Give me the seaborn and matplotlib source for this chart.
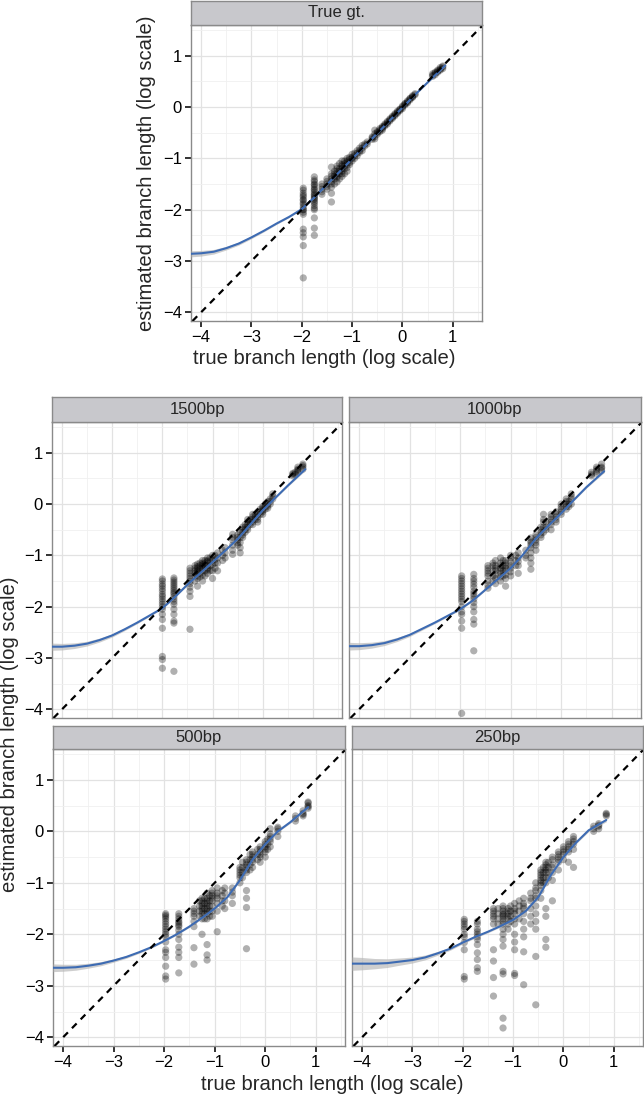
import numpy as np
import pandas as pd
import matplotlib.pyplot as plt
import seaborn as sns

# ── STYLE ─────────────────────────────────────────────────
sns.set_theme(style="white")
plt.rcParams["font.family"] = ["Liberation Sans", "DejaVu Sans"]

W, H = 644, 1096

# ── DATA (log true vs log estimated branch length) ───────
# each panel: true x column -> estimated y values
tgt_cols = {
    -1.97: [-1.58, -1.62, -1.68, -1.72, -1.75, -1.8, -1.82, -1.87, -1.9, -1.95, -2.0, -2.0,
            -2.05, -2.09, -2.38, -2.45, -2.53, -2.70, -3.33],
    -1.75: [-1.36, -1.42, -1.45, -1.5, -1.52, -1.56, -1.6, -1.62, -1.66, -1.7, -1.72, -1.75,
            -1.78, -1.8, -1.84, -1.87, -1.92, -1.97, -2.0, -2.16, -2.36, -2.50],
    -1.6: [-1.5, -1.55, -1.6, -1.65, -1.7],
    -1.5: [-1.4, -1.45, -1.5, -1.55, -1.6],
    -1.41: [-1.17, -1.3, -1.35, -1.4, -1.45, -1.5, -1.56, -1.68, -1.85],
    -1.35: [-1.25, -1.3, -1.35, -1.4, -1.5],
    -1.3: [-1.15, -1.2, -1.25, -1.3, -1.35, -1.38, -1.46],
    -1.25: [-1.1, -1.2, -1.25, -1.3, -1.4],
    -1.2: [-1.05, -1.12, -1.15, -1.2, -1.25, -1.3, -1.35],
    -1.15: [-1.05, -1.1, -1.15, -1.2, -1.3],
    -1.1: [-1.0, -1.05, -1.08, -1.12, -1.18, -1.25],
    -1.05: [-0.98, -1.02, -1.08, -1.12],
    -1.0: [-0.92, -0.98, -1.0, -1.05],
    -0.95: [-0.9, -0.95, -1.0],
    -0.9: [-0.85, -0.9, -0.95],
    -0.85: [-0.8, -0.85, -0.88],
    -0.8: [-0.75, -0.8, -0.85],
    -0.75: [-0.72, -0.76],
    -0.7: [-0.68, -0.72],
    -0.6: [-0.58, -0.6, -0.63],
    -0.55: [-0.45, -0.52, -0.58, -0.62],
    -0.5: [-0.48, -0.5, -0.53],
    -0.45: [-0.42, -0.45, -0.48],
    -0.4: [-0.38, -0.4, -0.42, -0.45],
    -0.35: [-0.33, -0.35, -0.37],
    -0.3: [-0.28, -0.3, -0.33],
    -0.25: [-0.23, -0.25, -0.27],
    -0.2: [-0.18, -0.2, -0.22],
    -0.15: [-0.13, -0.15, -0.17],
    -0.1: [-0.08, -0.1, -0.12],
    -0.05: [-0.04, -0.05, -0.07],
    0.0: [0.0, 0.02, -0.03],
    0.05: [0.04, 0.06, 0.07],
    0.1: [0.1, 0.12, 0.08],
    0.15: [0.14, 0.16, 0.17],
    0.2: [0.2, 0.22, 0.19],
    0.25: [0.24, 0.26],
    0.6: [0.6, 0.62, 0.65],
    0.65: [0.63, 0.66, 0.68],
    0.7: [0.68, 0.72, 0.7],
    0.75: [0.72, 0.74, 0.77],
    0.8: [0.75, 0.78, 0.8],
}
bp1500_cols = {
    -2.0: [-1.46, -1.5, -1.56, -1.6, -1.65, -1.7, -1.76, -1.8, -1.85, -1.9, -1.95, -2.0,
           -2.05, -2.15, -2.25, -2.42, -2.97, -3.03, -3.2],
    -1.77: [-1.44, -1.48, -1.52, -1.56, -1.6, -1.64, -1.68, -1.72, -1.75, -1.8, -1.85, -1.9,
            -1.95, -2.05, -2.15, -2.28, -2.32, -3.26],
    -1.45: [-1.25, -1.3, -1.35, -1.4, -1.45, -1.5, -1.55, -1.62, -1.7, -1.8, -2.44],
    -1.35: [-1.2, -1.25, -1.3, -1.35, -1.4, -1.5],
    -1.3: [-1.17, -1.22, -1.25, -1.3, -1.32, -1.4, -1.45, -1.6],
    -1.25: [-1.15, -1.2, -1.28, -1.35, -1.42],
    -1.2: [-1.1, -1.15, -1.18, -1.22, -1.25, -1.3, -1.38, -1.5],
    -1.15: [-1.1, -1.15, -1.2, -1.3, -1.4],
    -1.1: [-1.05, -1.1, -1.12, -1.2, -1.25, -1.28, -1.35],
    -1.05: [-1.05, -1.12, -1.2, -1.3],
    -1.0: [-1.0, -1.1, -1.18, -1.3, -1.45],
    -0.95: [-1.0, -1.08, -1.15, -1.25],
    -0.9: [-0.95, -1.05, -1.15, -1.3],
    -0.8: [-0.9, -1.0, -1.1],
    -0.75: [-0.85, -0.95, -1.05],
    -0.6: [-0.59, -0.65, -0.7, -0.8, -0.9, -0.98],
    -0.5: [-0.6, -0.65, -0.7, -0.75, -0.8],
    -0.45: [-0.55, -0.65, -0.75, -0.85, -0.95],
    -0.4: [-0.45, -0.5, -0.55, -0.6, -0.65],
    -0.35: [-0.4, -0.45, -0.5, -0.55],
    -0.3: [-0.3, -0.35, -0.4, -0.45, -0.5],
    -0.25: [-0.3, -0.35, -0.4],
    -0.2: [-0.2, -0.25, -0.3, -0.35, -0.4],
    -0.15: [-0.2, -0.25, -0.3],
    -0.1: [-0.15, -0.2, -0.25, -0.3, -0.35],
    -0.05: [-0.1, -0.15, -0.2],
    0.0: [-0.05, -0.08, -0.12, -0.15, -0.2],
    0.05: [0.0, -0.05, -0.1],
    0.1: [0.05, 0.0, -0.04, -0.08],
    0.15: [0.1, 0.05, 0.0],
    0.2: [0.1, 0.15, 0.2],
    0.6: [0.55, 0.58, 0.6],
    0.65: [0.58, 0.62],
    0.7: [0.62, 0.66, 0.68, 0.72],
    0.8: [0.68, 0.72, 0.75, 0.78],
}
bp1000_cols = {
    -1.97: [-1.4, -1.45, -1.5, -1.55, -1.6, -1.65, -1.7, -1.75, -1.8, -1.85, -1.9, -2.0,
            -2.1, -2.15, -2.28, -2.42, -4.08],
    -1.73: [-1.37, -1.45, -1.5, -1.56, -1.62, -1.7, -1.75, -1.8, -1.85, -1.92, -2.0, -2.1,
            -2.25, -2.34, -2.86],
    -1.45: [-1.2, -1.25, -1.3, -1.35, -1.4, -1.5, -1.58, -1.64],
    -1.35: [-1.15, -1.2, -1.3, -1.4, -1.5],
    -1.3: [-1.1, -1.2, -1.25, -1.3, -1.38, -1.45, -1.55],
    -1.2: [-1.05, -1.15, -1.2, -1.25, -1.3, -1.35, -1.42, -1.5],
    -1.15: [-1.1, -1.2, -1.3, -1.4],
    -1.1: [-1.1, -1.15, -1.2, -1.25, -1.3, -1.38, -1.45, -1.6],
    -1.0: [-1.0, -1.05, -1.12, -1.2, -1.25, -1.32, -1.4],
    -0.9: [-1.0, -1.1, -1.2],
    -0.85: [-0.95, -1.05, -1.12, -1.2, -1.35],
    -0.7: [-0.9, -1.0, -1.05],
    -0.6: [-0.66, -0.72, -0.75, -0.8, -0.85, -0.95, -1.05, -1.15, -1.27],
    -0.5: [-0.6, -0.65, -0.7, -0.75, -0.8, -0.9],
    -0.4: [-0.45, -0.5, -0.55, -0.6, -0.65],
    -0.35: [-0.2, -0.3, -0.35, -0.45, -0.55],
    -0.3: [-0.35, -0.45, -0.5],
    -0.2: [-0.2, -0.25, -0.3, -0.35, -0.4, -0.5],
    -0.1: [-0.15, -0.2, -0.25, -0.3, -0.35],
    0.0: [0.0, -0.05, -0.1, -0.15, -0.2],
    0.1: [0.1, 0.05, 0.0, -0.05, -0.1],
    0.15: [0.05, 0.0, -0.05],
    0.2: [0.2, 0.15, 0.1, 0.0],
    0.6: [0.55, 0.58, 0.62],
    0.7: [0.6, 0.64, 0.68, 0.72],
    0.8: [0.65, 0.7, 0.72, 0.78],
}
bp500_cols = {
    -1.97: [-1.6, -1.63, -1.66, -1.7, -1.75, -1.8, -1.85, -1.9, -1.95, -2.0, -2.05, -2.15,
            -2.3, -2.35, -2.45, -2.62, -2.81, -2.87],
    -1.71: [-1.6, -1.65, -1.7, -1.75, -1.78, -1.82, -1.85, -1.92, -2.0, -2.1, -2.25, -2.35,
            -2.45, -2.75],
    -1.41: [-1.5, -1.55, -1.6, -1.65, -1.75, -1.85, -2.26, -2.58],
    -1.3: [-1.35, -1.45, -1.55, -1.65],
    -1.25: [-1.3, -1.35, -1.4, -1.45, -1.5, -1.55, -1.6, -1.7, -2.0],
    -1.2: [-1.3, -1.4, -1.5, -1.6, -1.7],
    -1.15: [-1.2, -1.3, -1.35, -1.4, -1.45, -1.5, -1.55, -1.6, -1.7, -2.2, -2.4, -2.5],
    -1.1: [-1.25, -1.35, -1.45, -1.55, -1.65],
    -1.05: [-1.15, -1.2, -1.25, -1.3, -1.35, -1.45, -1.55, -1.65],
    -0.95: [-1.1, -1.2, -1.25, -1.3, -1.4, -1.55, -1.95],
    -0.85: [-1.15, -1.25, -1.35, -1.45],
    -0.8: [-1.1, -1.2, -1.35, -1.5],
    -0.65: [-1.1, -1.18, -1.25, -1.4],
    -0.5: [-0.7, -0.75, -0.8, -0.85, -0.9, -1.0],
    -0.45: [-0.6, -0.7, -0.8, -0.9],
    -0.37: [-0.55, -0.6, -0.65, -0.7, -0.75, -0.8, -1.15, -1.3, -1.48, -2.28],
    -0.3: [-0.45, -0.55, -0.65, -0.75],
    -0.25: [-0.4, -0.45, -0.5, -0.55, -0.6, -0.7],
    -0.15: [-0.35, -0.45, -0.55],
    -0.1: [-0.3, -0.35, -0.4, -0.45, -0.5, -0.6],
    0.0: [-0.2, -0.25, -0.3, -0.35, -0.4, -0.5],
    0.05: [-0.15, -0.25, -0.35],
    0.1: [0.05, -0.05, -0.1, -0.15, -0.2, -0.3],
    0.25: [0.08, 0.05, 0.0, -0.1],
    0.6: [0.2, 0.25, 0.3],
    0.75: [0.3, 0.33, 0.35, 0.4],
    0.85: [0.45, 0.48, 0.5, 0.55, 0.57],
}
bp250_cols = {
    -1.97: [-1.71, -1.75, -1.8, -1.85, -1.9, -2.0, -2.05, -2.16, -2.3, -2.82, -2.87],
    -1.71: [-1.75, -1.8, -1.9, -1.95, -2.0, -2.05, -2.1, -2.2, -2.36, -2.49, -2.65, -2.72],
    -1.39: [-1.5, -1.55, -1.6, -1.65, -1.7, -1.8, -2.3, -2.52, -2.84, -3.2],
    -1.3: [-1.5, -1.6, -1.7, -1.8],
    -1.2: [-1.45, -1.5, -1.55, -1.6, -1.62, -1.65, -1.7, -1.75, -1.8, -1.9, -2.0, -2.1,
           -2.23, -2.72, -2.77, -3.63, -3.82],
    -1.1: [-1.5, -1.55, -1.6, -1.65, -1.7, -1.8, -1.9],
    -1.05: [-1.45, -1.55, -1.65, -1.75],
    -0.97: [-1.4, -1.5, -1.55, -1.6, -1.7, -1.8, -2.0, -2.15, -2.3, -2.76, -2.8],
    -0.88: [-1.35, -1.45, -1.55, -1.7],
    -0.79: [-1.3, -1.4, -1.45, -1.5, -1.6, -1.75, -1.9, -2.05, -2.34, -2.98],
    -0.65: [-1.2, -1.3, -1.35, -1.5, -1.65, -1.8],
    -0.55: [-1.0, -1.1, -1.15, -1.25, -1.3, -1.45, -1.6, -1.75, -1.9, -2.43, -3.37],
    -0.45: [-0.75, -0.8, -0.85, -0.9, -0.95, -1.0, -1.05, -1.15, -1.3],
    -0.4: [-0.7, -0.8, -0.9, -1.0],
    -0.35: [-0.6, -0.65, -0.7, -0.75, -0.8, -0.9, -1.0, -1.5, -1.65, -2.1, -2.25],
    -0.3: [-0.6, -0.7, -0.8, -0.9],
    -0.22: [-0.5, -0.55, -0.65, -0.7, -0.8, -0.95, -1.35],
    -0.1: [-0.4, -0.45, -0.5, -0.55, -0.6, -0.75],
    0.0: [-0.3, -0.35, -0.4, -0.45, -0.55],
    0.1: [-0.2, -0.25, -0.3, -0.35, -0.4, -0.6],
    0.2: [-0.1, -0.15, -0.2, -0.25, -0.35, -0.7],
    0.6: [0.0, 0.05, 0.1],
    0.7: [0.05, 0.1, 0.12, 0.15],
    0.85: [0.3, 0.33, 0.35],
}

# smoothed fit and half-width of the grey band
fit_x = [-4.2, -4.0, -3.75, -3.5, -3.25, -3.0, -2.75, -2.5, -2.25, -2.0, -1.75,
         -1.5, -1.25, -1.0, -0.75, -0.5, -0.25, 0.0, 0.25, 0.5, 0.85]
tgt_fit = [-2.86, -2.85, -2.82, -2.75, -2.66, -2.54, -2.41, -2.27, -2.14, -1.99, -1.76,
           -1.51, -1.26, -1.01, -0.76, -0.51, -0.26, -0.01, 0.24, 0.48, 0.81]
bp1500_fit = [-2.78, -2.78, -2.76, -2.72, -2.65, -2.56, -2.44, -2.31, -2.17, -2.03, -1.81,
              -1.57, -1.35, -1.13, -0.91, -0.68, -0.4, -0.12, 0.12, 0.36, 0.68]
bp1000_fit = [-2.77, -2.77, -2.75, -2.71, -2.64, -2.55, -2.43, -2.31, -2.18, -2.05, -1.88,
              -1.67, -1.46, -1.25, -0.98, -0.67, -0.42, -0.18, 0.08, 0.33, 0.64]
bp500_fit = [-2.65, -2.65, -2.64, -2.61, -2.57, -2.51, -2.44, -2.35, -2.25, -2.13, -2.0,
             -1.85, -1.68, -1.5, -1.28, -0.95, -0.55, -0.25, 0.0, 0.18, 0.47]
bp250_fit = [-2.57, -2.57, -2.57, -2.56, -2.53, -2.5, -2.45, -2.37, -2.28, -2.16, -2.05,
             -1.95, -1.84, -1.72, -1.55, -1.28, -0.85, -0.5, -0.22, 0.02, 0.22]

tgt_band = [0.06, 0.055, 0.045, 0.035, 0.03, 0.025, 0.02, 0.016, 0.013, 0.01, 0.01,
            0.01, 0.01, 0.01, 0.01, 0.01, 0.01, 0.01, 0.01, 0.012, 0.016]
bp1500_band = [0.07, 0.064, 0.055, 0.046, 0.038, 0.031, 0.025, 0.02, 0.017, 0.015, 0.014,
               0.014, 0.014, 0.014, 0.014, 0.014, 0.014, 0.014, 0.015, 0.018, 0.025]
bp1000_band = [0.075, 0.068, 0.058, 0.048, 0.04, 0.032, 0.026, 0.021, 0.018, 0.016, 0.015,
               0.015, 0.015, 0.015, 0.015, 0.015, 0.015, 0.015, 0.016, 0.019, 0.026]
bp500_band = [0.075, 0.068, 0.058, 0.048, 0.04, 0.032, 0.026, 0.021, 0.018, 0.016, 0.015,
              0.015, 0.015, 0.015, 0.015, 0.015, 0.015, 0.015, 0.016, 0.019, 0.026]
bp250_band = [0.13, 0.12, 0.1, 0.085, 0.07, 0.058, 0.047, 0.037, 0.03, 0.025, 0.022,
              0.02, 0.02, 0.02, 0.02, 0.02, 0.02, 0.02, 0.022, 0.026, 0.034]

panel_names = ["True gt.", "1500bp", "1000bp", "500bp", "250bp"]
panel_cols = [tgt_cols, bp1500_cols, bp1000_cols, bp500_cols, bp250_cols]
panel_fits = [tgt_fit, bp1500_fit, bp1000_fit, bp500_fit, bp250_fit]
panel_bands = [tgt_band, bp1500_band, bp1000_band, bp500_band, bp250_band]

# ── LAYOUT (pixels: left, top, right, bottom, strip height, show x, show y) ──
layout = [
    (191, 25, 482, 321, 24, True, True),
    (52, 422, 342, 718, 25, False, True),
    (349, 422, 641, 718, 25, False, False),
    (53, 749, 345, 1046, 23, True, True),
    (352, 749, 643, 1046, 23, True, False),
]


def box(l, t, r, b):
    return [l / W, 1 - b / H, (r - l) / W, (b - t) / H]


fig = plt.figure(figsize=(W / 100, H / 100), dpi=100)

for name, cols, fit, band, (l, t, r, b, sh, showx, showy) in zip(
        panel_names, panel_cols, panel_fits, panel_bands, layout):
    ax = fig.add_axes(box(l, t, r, b))
    df = pd.DataFrame([(x, y) for x, ys in cols.items() for y in ys], columns=["x", "y"])

    sns.scatterplot(data=df, x="x", y="y", color="black", alpha=0.31, s=27,
                    linewidth=0, edgecolor="none", ax=ax, legend=False, zorder=2)
    fy = np.array(fit)
    bw = np.array(band)
    ax.fill_between(fit_x, fy - bw, fy + bw, color="#b5b5b5", alpha=0.65, lw=0, zorder=3)
    sns.lineplot(x=fit_x, y=fit, color="#3d6bb3", lw=1.5, ax=ax, zorder=4)
    ax.axline((0, 0), slope=1, color="black", lw=1.6, ls=(0, (3, 2.6)), zorder=5)

    ax.set_xlim(-4.2, 1.58)
    ax.set_ylim(-4.17, 1.6)
    ax.set_xticks(range(-4, 2))
    ax.set_yticks(range(-4, 2))
    ax.set_xticks([-3.5, -2.5, -1.5, -0.5, 0.5, 1.5], minor=True)
    ax.set_yticks([-3.5, -2.5, -1.5, -0.5, 0.5, 1.5], minor=True)
    ax.grid(which="major", color="#e2e2e2", lw=0.9)
    ax.grid(which="minor", color="#f0f0f0", lw=0.6)
    ax.set_axisbelow(True)
    ax.set_xlabel("")
    ax.set_ylabel("")
    ax.set_facecolor("white")
    for s in ax.spines.values():
        s.set_color("#8a8a8a")
        s.set_linewidth(1.0)
    ax.tick_params(which="major", length=4.5, width=1.3, color="#222222",
                   labelsize=12, labelcolor="black", pad=2)
    ax.tick_params(which="minor", length=0)
    ax.tick_params(bottom=showx, labelbottom=showx, left=showy, labelleft=showy)

    sax = fig.add_axes(box(l, t - sh, r, t))
    sax.set_facecolor("#c8c8cc")
    sax.set_xticks([])
    sax.set_yticks([])
    for s in sax.spines.values():
        s.set_color("#8a8a8a")
        s.set_linewidth(1.0)
    sax.text(0.5, 0.5, name, ha="center", va="center", fontsize=12,
             transform=sax.transAxes)

# ── AXIS TITLES ───────────────────────────────────────────
xlab = "true branch length (log scale)"
ylab = "estimated branch length (log scale)"
fig.text(324 / W, 1 - 358 / H, xlab, ha="center", va="center", fontsize=14.6)
fig.text(146 / W, 1 - 173 / H, ylab, ha="center", va="center", fontsize=14.6, rotation=90)
fig.text(332 / W, 1 - 1085 / H, xlab, ha="center", va="center", fontsize=14.6)
fig.text(10 / W, 1 - 734 / H, ylab, ha="center", va="center", fontsize=14.6, rotation=90)

fig.savefig("out.png", dpi=100)
